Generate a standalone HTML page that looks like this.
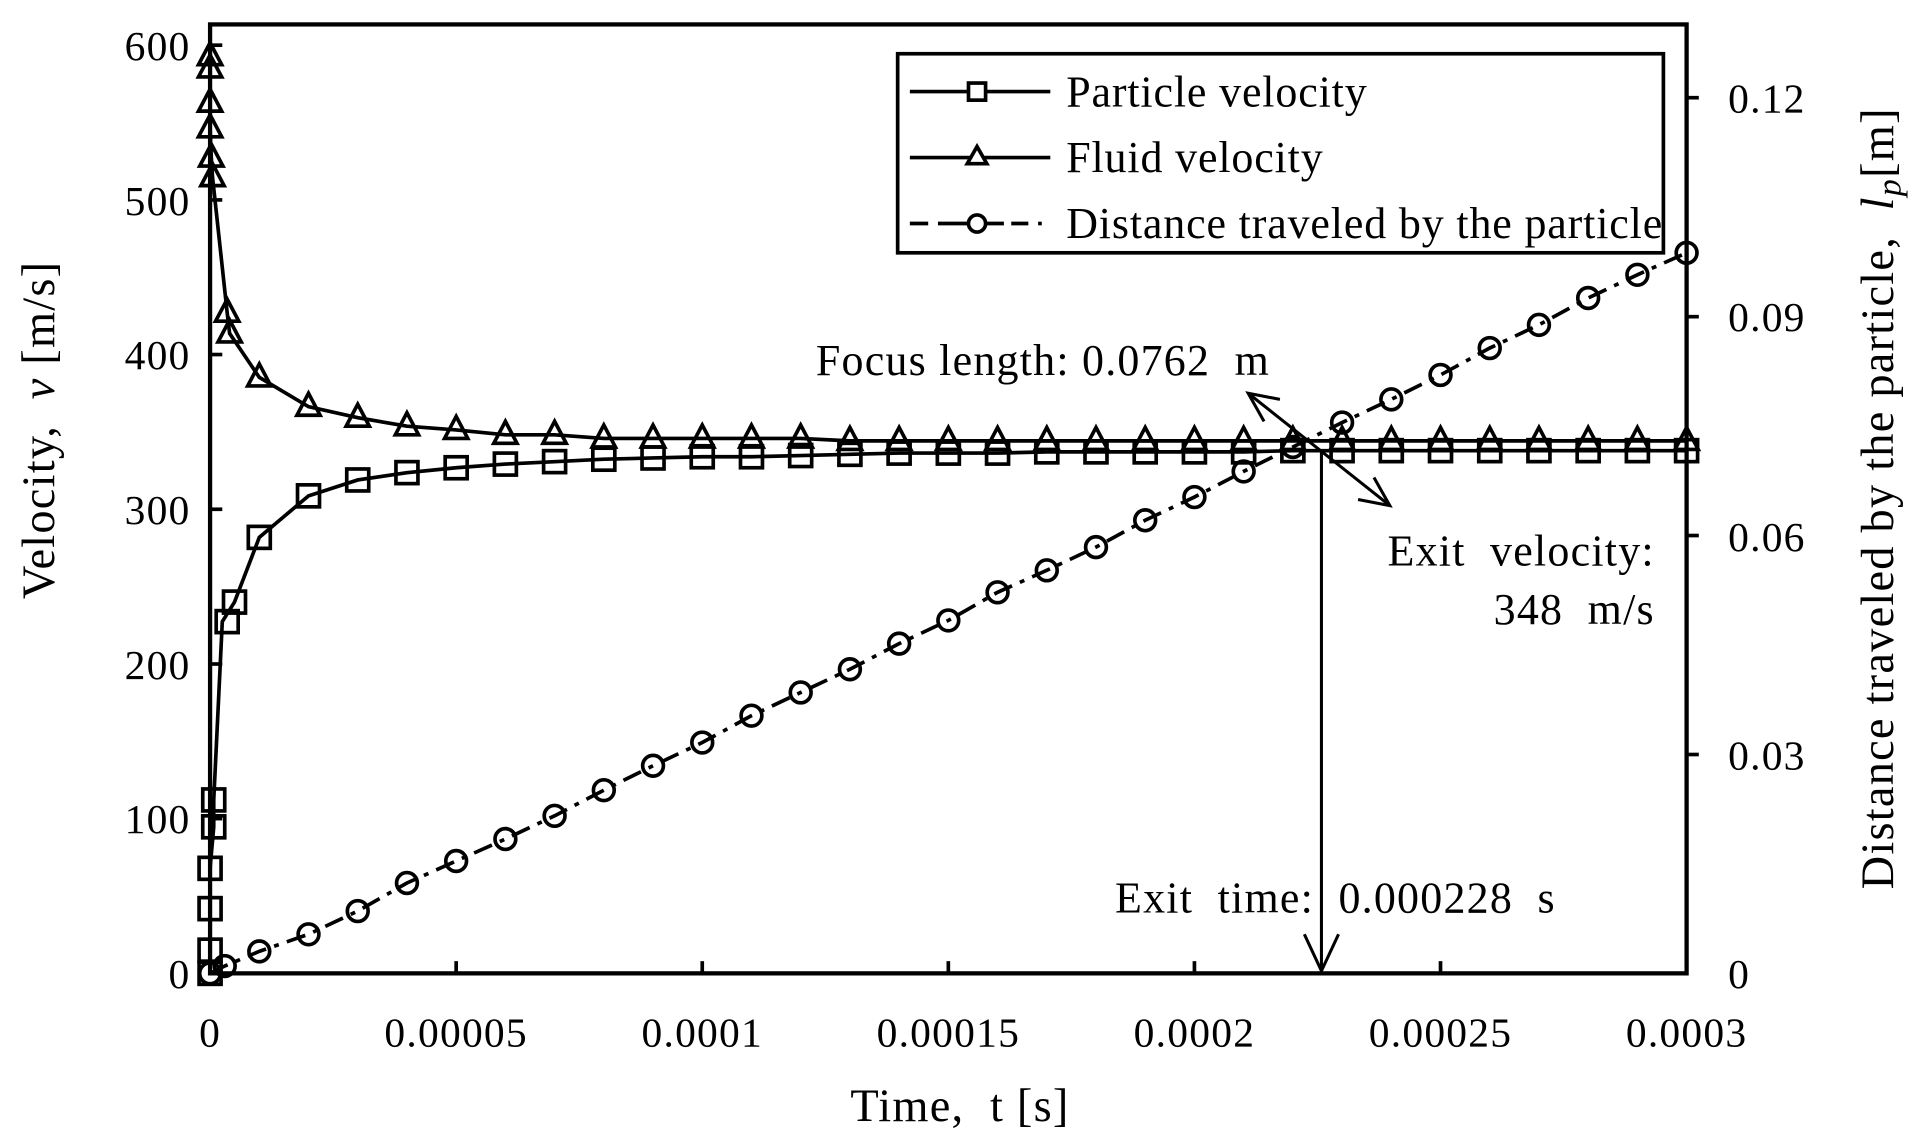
<!DOCTYPE html>
<html><head><meta charset="utf-8"><style>
html,body{margin:0;padding:0;background:#fff;}
svg{display:block;}
text{font-family:"Liberation Serif",serif;fill:#000;white-space:pre;}
</style></head><body>
<svg width="1915" height="1148" viewBox="0 0 1568 940" xmlns="http://www.w3.org/2000/svg">
<defs>
<rect id="sq" x="-9" y="-9" width="18" height="18" fill="none" stroke="#000" stroke-width="3"/>
<polygon id="tr" points="0,-11 -9.5,7 9.5,7" fill="none" stroke="#000" stroke-width="3" stroke-linejoin="miter"/>
<circle id="ci" r="8.5" fill="none" stroke="#000" stroke-width="3"/>
</defs>
<rect width="1568" height="940" fill="#fff"/>
<rect x="172" y="20" width="1209" height="777" fill="none" stroke="#000" stroke-width="3.5"/>
<g stroke="#000" stroke-width="3">
<line x1="172" y1="670.3" x2="182" y2="670.3"/><line x1="172" y1="543.7" x2="182" y2="543.7"/>
<line x1="172" y1="417" x2="182" y2="417"/><line x1="172" y1="290.3" x2="182" y2="290.3"/>
<line x1="172" y1="163.7" x2="182" y2="163.7"/><line x1="172" y1="37" x2="182" y2="37"/>
<line x1="1381" y1="617.8" x2="1391" y2="617.8"/><line x1="1381" y1="438.5" x2="1391" y2="438.5"/>
<line x1="1381" y1="259.3" x2="1391" y2="259.3"/><line x1="1381" y1="80" x2="1391" y2="80"/>
<line x1="373.5" y1="797" x2="373.5" y2="787"/><line x1="575" y1="797" x2="575" y2="787"/>
<line x1="776.5" y1="797" x2="776.5" y2="787"/><line x1="978" y1="797" x2="978" y2="787"/>
<line x1="1179.5" y1="797" x2="1179.5" y2="787"/>
</g>
<g font-size="34" text-anchor="end" letter-spacing="1">
<text x="156" y="809">0</text><text x="156" y="682">100</text><text x="156" y="556">200</text>
<text x="156" y="429">300</text><text x="156" y="302">400</text><text x="156" y="176">500</text><text x="156" y="49">600</text>
</g>
<g font-size="34" text-anchor="start" letter-spacing="1">
<text x="1415" y="809">0</text><text x="1415" y="630">0.03</text><text x="1415" y="451">0.06</text>
<text x="1415" y="271">0.09</text><text x="1415" y="92">0.12</text>
</g>
<g font-size="34" text-anchor="middle" letter-spacing="1">
<text x="172" y="857">0</text><text x="373.5" y="857">0.00005</text><text x="575" y="857">0.0001</text>
<text x="776.5" y="857">0.00015</text><text x="978" y="857">0.0002</text><text x="1179.5" y="857">0.00025</text><text x="1381" y="857">0.0003</text>
</g>
<text x="786" y="918" font-size="38" letter-spacing="1" text-anchor="middle">Time,  t [s]</text>
<text transform="translate(44,352) rotate(-90)" font-size="38" letter-spacing="1" text-anchor="middle">Velocity,  <tspan font-style="italic">v</tspan> [m/s]</text>
<text transform="translate(1550,408) rotate(-90)" font-size="38" letter-spacing="1" text-anchor="middle">Distance traveled by the particle,  <tspan font-style="italic">l</tspan><tspan font-style="italic" font-size="28" dy="6">p</tspan><tspan dy="-6">[m]</tspan></text>

<polyline fill="none" stroke="#000" stroke-width="3" points="172,797 172,778 172,744 172,711 175,677 175,655 182,509 192,493 212.3,440 252.6,406 292.9,393 333.2,387 373.5,383 413.8,380 454.1,378 494.4,376 534.7,375 575,374 615.3,374 655.6,373 695.9,372 736.2,371 776.5,371 816.8,371 857.1,370 897.4,370 937.7,370 978,370 1018.3,370 1058.6,369 1098.9,369 1139.2,369 1179.5,369 1219.8,369 1260.1,369 1300.4,369 1340.7,369 1381,369"/>
<g>
<use href="#sq" x="172" y="797"/><use href="#sq" x="172" y="778"/><use href="#sq" x="172" y="744"/><use href="#sq" x="172" y="711"/>
<use href="#sq" x="175" y="677"/><use href="#sq" x="175" y="655"/><use href="#sq" x="186" y="509"/><use href="#sq" x="192" y="493"/>
<use href="#sq" x="212.3" y="440"/><use href="#sq" x="252.6" y="406"/><use href="#sq" x="292.9" y="393"/><use href="#sq" x="333.2" y="387"/>
<use href="#sq" x="373.5" y="383"/><use href="#sq" x="413.8" y="380"/><use href="#sq" x="454.1" y="378"/><use href="#sq" x="494.4" y="376"/>
<use href="#sq" x="534.7" y="375"/><use href="#sq" x="575" y="374"/><use href="#sq" x="615.3" y="374"/><use href="#sq" x="655.6" y="373"/>
<use href="#sq" x="695.9" y="372"/><use href="#sq" x="736.2" y="371"/><use href="#sq" x="776.5" y="371"/><use href="#sq" x="816.8" y="371"/>
<use href="#sq" x="857.1" y="370"/><use href="#sq" x="897.4" y="370"/><use href="#sq" x="937.7" y="370"/><use href="#sq" x="978" y="370"/>
<use href="#sq" x="1018.3" y="370"/><use href="#sq" x="1058.6" y="369"/><use href="#sq" x="1098.9" y="369"/><use href="#sq" x="1139.2" y="369"/>
<use href="#sq" x="1179.5" y="369"/><use href="#sq" x="1219.8" y="369"/><use href="#sq" x="1260.1" y="369"/><use href="#sq" x="1300.4" y="369"/>
<use href="#sq" x="1340.7" y="369"/><use href="#sq" x="1381" y="369"/>
</g>
<polyline fill="none" stroke="#000" stroke-width="3" points="172,46 172,56 172,84 172,105 173,129 174,145 186,256 188,273 212.3,309 252.6,333 292.9,342 333.2,349 373.5,352 413.8,356 454.1,356 494.4,359 534.7,359 575,359 615.3,359 655.6,359 695.9,361 736.2,361 776.5,361 816.8,361 857.1,361 897.4,361 937.7,361 978,361 1018.3,361 1058.6,361 1098.9,361 1139.2,361 1179.5,361 1219.8,361 1260.1,361 1300.4,361 1340.7,361 1381,361"/>
<g>
<use href="#tr" x="172" y="46"/><use href="#tr" x="172" y="56"/><use href="#tr" x="172" y="84"/><use href="#tr" x="172" y="105"/>
<use href="#tr" x="173" y="129"/><use href="#tr" x="174" y="145"/><use href="#tr" x="186" y="256"/><use href="#tr" x="188" y="273"/>
<use href="#tr" x="212.3" y="309"/><use href="#tr" x="252.6" y="333"/><use href="#tr" x="292.9" y="342"/><use href="#tr" x="333.2" y="349"/>
<use href="#tr" x="373.5" y="352"/><use href="#tr" x="413.8" y="356"/><use href="#tr" x="454.1" y="356"/><use href="#tr" x="494.4" y="359"/>
<use href="#tr" x="534.7" y="359"/><use href="#tr" x="575" y="359"/><use href="#tr" x="615.3" y="359"/><use href="#tr" x="655.6" y="359"/>
<use href="#tr" x="695.9" y="361"/><use href="#tr" x="736.2" y="361"/><use href="#tr" x="776.5" y="361"/><use href="#tr" x="816.8" y="361"/>
<use href="#tr" x="857.1" y="361"/><use href="#tr" x="897.4" y="361"/><use href="#tr" x="937.7" y="361"/><use href="#tr" x="978" y="361"/>
<use href="#tr" x="1018.3" y="361"/><use href="#tr" x="1058.6" y="361"/><use href="#tr" x="1098.9" y="361"/><use href="#tr" x="1139.2" y="361"/>
<use href="#tr" x="1179.5" y="361"/><use href="#tr" x="1219.8" y="361"/><use href="#tr" x="1260.1" y="361"/><use href="#tr" x="1300.4" y="361"/>
<use href="#tr" x="1340.7" y="361"/><use href="#tr" x="1381" y="361"/>
</g>
<polyline fill="none" stroke="#000" stroke-width="3" stroke-dasharray="16,7,4,7" points="172,797 184,791 212.3,779 252.6,765 292.9,746 333.2,723 373.5,705 413.8,687 454.1,668 494.4,647 534.7,627 575,608 615.3,586 655.6,567 695.9,548 736.2,527 776.5,508 816.8,485 857.1,467 897.4,448 937.7,426 978,407 1018.3,386 1058.6,366 1098.9,346 1139.2,327 1179.5,307 1219.8,285 1260.1,266 1300.4,244 1340.7,225 1381,207"/>
<g>
<use href="#ci" x="172" y="797"/><use href="#ci" x="184" y="791"/><use href="#ci" x="212.3" y="779"/><use href="#ci" x="252.6" y="765"/>
<use href="#ci" x="292.9" y="746"/><use href="#ci" x="333.2" y="723"/><use href="#ci" x="373.5" y="705"/><use href="#ci" x="413.8" y="687"/>
<use href="#ci" x="454.1" y="668"/><use href="#ci" x="494.4" y="647"/><use href="#ci" x="534.7" y="627"/><use href="#ci" x="575" y="608"/>
<use href="#ci" x="615.3" y="586"/><use href="#ci" x="655.6" y="567"/><use href="#ci" x="695.9" y="548"/><use href="#ci" x="736.2" y="527"/>
<use href="#ci" x="776.5" y="508"/><use href="#ci" x="816.8" y="485"/><use href="#ci" x="857.1" y="467"/><use href="#ci" x="897.4" y="448"/>
<use href="#ci" x="937.7" y="426"/><use href="#ci" x="978" y="407"/><use href="#ci" x="1018.3" y="386"/><use href="#ci" x="1058.6" y="366"/>
<use href="#ci" x="1098.9" y="346"/><use href="#ci" x="1139.2" y="327"/><use href="#ci" x="1179.5" y="307"/><use href="#ci" x="1219.8" y="285"/>
<use href="#ci" x="1260.1" y="266"/><use href="#ci" x="1300.4" y="244"/><use href="#ci" x="1340.7" y="225"/><use href="#ci" x="1381" y="207"/>
</g>
<g stroke="#000" stroke-width="2.5" fill="none">
<line x1="1082" y1="370" x2="1082" y2="795"/>
<polyline points="1068,765 1082,795 1096,765"/>
<line x1="1022" y1="322" x2="1138" y2="414"/>
<polyline points="1035,345 1022,322 1048,327"/>
<polyline points="1125,391 1138,414 1112,409"/>
</g>
<g font-size="36" letter-spacing="1">
<text x="668" y="307">Focus length: 0.0762  m</text>
<text x="1355" y="463" text-anchor="end">Exit  velocity:</text>
<text x="1355" y="511" text-anchor="end">348  m/s</text>
<text x="913" y="747">Exit  time:  0.000228  s</text>
</g>
<rect x="735" y="44" width="627" height="163" fill="#fff" stroke="#000" stroke-width="3"/>
<g stroke="#000" stroke-width="3" fill="none">
<line x1="745" y1="75" x2="860" y2="75"/><rect x="793" y="68" width="14" height="14" fill="#fff"/>
<line x1="745" y1="129" x2="860" y2="129"/><polygon points="800,120 792,134 808,134" fill="#fff"/>
<line x1="745" y1="183" x2="760" y2="183"/><line x1="768" y1="183" x2="822" y2="183"/><line x1="828" y1="183" x2="842" y2="183"/><line x1="850" y1="183" x2="853" y2="183"/>
<circle cx="800" cy="183" r="7" fill="#fff"/>
</g>
<g font-size="36" letter-spacing="0.7">
<text x="873" y="87">Particle velocity</text>
<text x="873" y="141">Fluid velocity</text>
<text x="873" y="195">Distance traveled by the particle</text>
</g>
</svg>
</body></html>
